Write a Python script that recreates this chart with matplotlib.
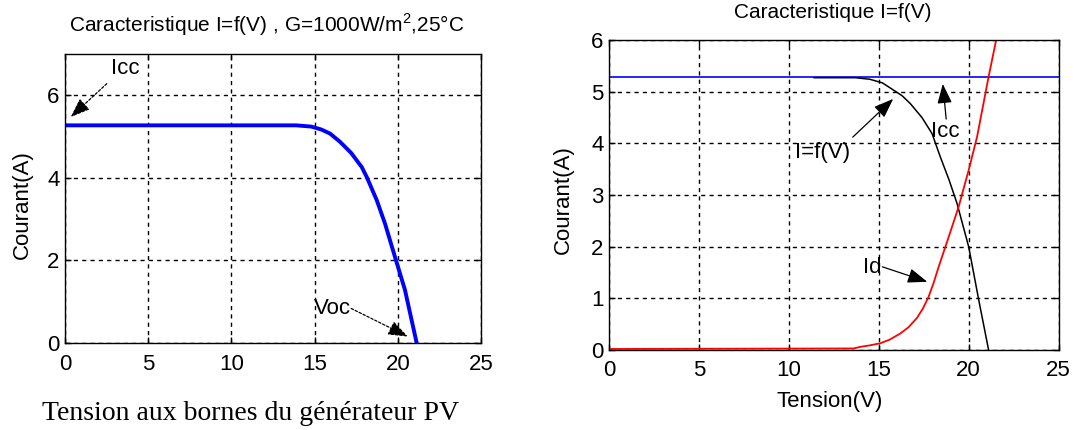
import matplotlib
matplotlib.use("Agg")
import matplotlib.pyplot as plt

# ---------------- data ----------------
# Left panel: I=f(V), G=1000 W/m2, 25 C
v_left = [0.0, 13.9, 14.8, 15.4, 15.93, 16.53, 17.2, 17.83, 18.13, 18.73, 19.23, 19.83, 20.43, 21.13]
i_left = [5.27, 5.27, 5.24, 5.17, 5.07, 4.87, 4.6, 4.26, 4.02, 3.46, 2.89, 2.08, 1.28, 0.0]

# Right panel: I=f(V) (black), Icc (blue), Id (red)
v_curve = [11.4, 13.7, 14.5, 15.2, 15.82, 16.3, 16.75, 17.4, 17.96, 18.42, 18.9, 19.35, 20.0, 20.56, 21.11]
i_curve = [5.27, 5.27, 5.24, 5.17, 5.03, 4.92, 4.77, 4.5, 4.19, 3.74, 3.3, 2.84, 2.0, 0.97, 0.0]

icc_value = 5.29
icc_v = [0.0, 25.0]

v_id = [0.0, 13.6, 13.96, 14.5, 15.08, 15.6, 16.2, 16.65, 17.12, 17.45, 17.77, 18.05, 18.33,
        18.89, 19.44, 20.0, 20.47, 21.11, 21.53]
i_id = [0.02, 0.03, 0.06, 0.09, 0.13, 0.2, 0.32, 0.44, 0.62, 0.8, 1.03, 1.3, 1.61,
        2.19, 2.77, 3.48, 4.13, 5.29, 6.0]

x_ticks = [0, 5, 10, 15, 20, 25]
y_ticks_left = [0, 2, 4, 6]
y_ticks_right = [0, 1, 2, 3, 4, 5, 6]

title_left = "Caracteristique I=f(V) , G=1000W/m$^\\mathregular{2}$,25°C"
title_right = "Caracteristique I=f(V)"
ylabel = "Courant(A)"
xlabel_left = "Tension aux bornes du générateur PV"
xlabel_right = "Tension(V)"

# ---------------- style ----------------
SANS = ["Liberation Sans", "DejaVu Sans"]
plt.rcParams["font.family"] = SANS
plt.rcParams["mathtext.fontset"] = "custom"
plt.rcParams["mathtext.rm"] = "Liberation Sans"
FS = 16
FT = 15

fig = plt.figure(figsize=(10.74, 4.30), dpi=100)
W, H = 1074, 430

def ax_rect(x0, y0, x1, y1):
    return [x0 / W, 1 - y1 / H, (x1 - x0) / W, (y1 - y0) / H]

def style_axes(ax, yt, xpad):
    ax.set_xlim(0, 25)
    ax.set_xticks(x_ticks)
    ax.set_yticks(yt)
    ax.grid(True, color="black", linestyle=(0, (3, 3)), linewidth=1.0)
    ax.tick_params(direction="in", length=4, width=1, labelsize=FS, colors="black",
                   top=True, right=True, pad=4)
    ax.tick_params(axis="x", pad=xpad)
    for s in ax.spines.values():
        s.set_linewidth(1.0)
        s.set_color("black")
    ax.set_axisbelow(True)

HEAD = "-|>,head_length=1.2,head_width=0.45"
arrow_dashed = dict(arrowstyle=HEAD, color="black", linewidth=0.9,
                    linestyle=(0, (2, 1.5)), shrinkA=0, shrinkB=0)
arrow_solid = dict(arrowstyle=HEAD, color="black", linewidth=0.9, shrinkA=0, shrinkB=0)

# ---------------- left panel ----------------
axL = fig.add_axes(ax_rect(65, 54, 481, 342.7))
axL.plot(v_left, i_left, color="#0000ff", linewidth=2.8, solid_joinstyle="round")
axL.set_ylim(0, 7)
style_axes(axL, y_ticks_left, 8)
axL.annotate("", xy=(0.34, 5.47), xytext=(2.51, 6.28), arrowprops=arrow_dashed)
axL.text(2.75, 6.64, "Icc", fontsize=FS, ha="left", va="center")
axL.annotate("", xy=(20.6, 0.15), xytext=(17.2, 0.83), arrowprops=arrow_dashed)
axL.text(14.93, 0.83, "Voc", fontsize=FS, ha="left", va="center")

fig.text(267 / W, 1 - 25 / H, title_left, fontsize=FT, ha="center", va="center")
fig.text(22.4 / W, 1 - 205 / H, ylabel, fontsize=FS, ha="center", va="center", rotation=90)
fig.text(251 / W, 1 - 413 / H, xlabel_left, fontsize=20, ha="center", va="center",
         family=["Liberation Serif", "DejaVu Serif"])

# ---------------- right panel ----------------
axR = fig.add_axes(ax_rect(609.3, 40, 1058.5, 350))
axR.plot(icc_v, [icc_value, icc_value], color="#0000ff", linewidth=1.2)
axR.plot(v_curve, i_curve, color="black", linewidth=1.1)
axR.plot(v_id, i_id, color="#ff0000", linewidth=1.3)
axR.set_ylim(0, 6)
style_axes(axR, y_ticks_right, 7)

axR.annotate("", xy=(15.8, 4.86), xytext=(13.55, 4.12), arrowprops=arrow_solid)
axR.text(10.35, 3.83, "I=f(V)", fontsize=FS, ha="left", va="center")
axR.annotate("", xy=(18.56, 5.15), xytext=(18.75, 4.47), arrowprops=arrow_solid)
axR.text(17.9, 4.22, "Icc", fontsize=FS, ha="left", va="center")
axR.annotate("", xy=(17.7, 1.32), xytext=(15.2, 1.61), arrowprops=arrow_solid)
axR.text(14.1, 1.6, "Id", fontsize=FS, ha="left", va="center")

fig.text(832.6 / W, 1 - 13 / H, title_right, fontsize=FT, ha="center", va="center")
fig.text(563.8 / W, 1 - 200 / H, ylabel, fontsize=FS, ha="center", va="center", rotation=90)
fig.text(830 / W, 1 - 401.7 / H, xlabel_right, fontsize=FS, ha="center", va="center")

fig.savefig("out.png", dpi=100, facecolor="white")
